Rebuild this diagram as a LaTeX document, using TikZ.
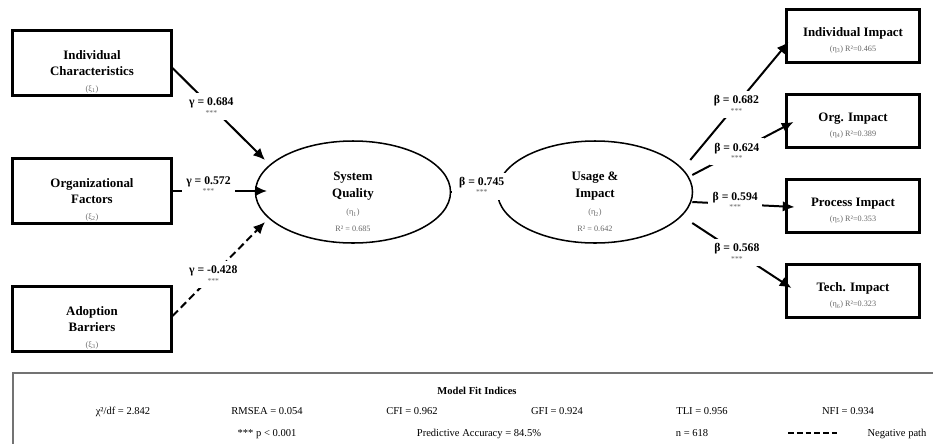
\documentclass[tikz,border=0pt]{standalone}
\usepackage{fontspec}
\setmainfont{Liberation Serif}
\usetikzlibrary{arrows.meta,calc,positioning,shapes.geometric}

\tikzset{
  exog/.style={draw, line width=1.8pt, minimum width=4.77cm, minimum height=1.95cm,
    align=center, font=\fontsize{11}{13.5}\selectfont\bfseries},
  endog/.style={draw, line width=1.8pt, minimum width=3.99cm, minimum height=1.59cm,
    align=center, font=\fontsize{11}{13.5}\selectfont\bfseries},
  latent/.style={draw, ellipse, line width=1.3pt, minimum width=5.85cm,
    minimum height=3.06cm, inner sep=0pt},
  lvname/.style={align=center, font=\fontsize{11}{14}\selectfont\bfseries},
  sublab/.style={inner sep=1pt, text=black!60, font=\fontsize{7}{8}\selectfont},
  coef/.style={fill=white, align=center, inner xsep=4pt, inner ysep=4pt,
    font=\fontsize{10}{10}\selectfont\bfseries},
  pathline/.style={line width=1.7pt, -{Latex[length=10pt,width=9pt]}},
  negpath/.style={pathline, dash pattern=on 6.5pt off 3.5pt},
  fitlab/.style={anchor=base, font=\fontsize{9}{11}\selectfont},
}
\newcommand{\sigstars}{\\[-2pt]{\fontsize{6.5}{6.5}\selectfont\mdseries\color{black!60}***}}
\newcommand{\subtxt}[1]{{\fontsize{7}{8}\selectfont\mdseries\color{black!60}#1}}

\begin{document}
\begin{tikzpicture}[x=0.03cm, y=-0.03cm]
			%%%%% START %%%%%
			\useasboundingbox (0,0) rectangle (933,443);
			
			% exogenous constructs
			\node[exog] (ic) at (92,63) {Individual\\Characteristics};
			\node[sublab, above=1.5pt of ic.south] (icxi) {(ξ\textsubscript{1})};
			\node[exog] (of) at (92,191) {Organizational\\Factors};
			\node[sublab, above=1.5pt of of.south] (ofxi) {(ξ\textsubscript{2})};
			\node[exog] (ab) at (92,319) {Adoption\\Barriers};
			\node[sublab, above=1.5pt of ab.south] (abxi) {(ξ\textsubscript{3})};
			
			% latent constructs
			\node[latent] (sq) at (353,192) {};
			\node[lvname] (sqname) at (353,186) {System\\Quality};
			\node[sublab] (sqeta) at (353,213) {(η\textsubscript{1})};
			\node[sublab] (sqr) at (353,229) {R² = 0.685};
			
			\node[latent] (ui) at (595,192) {};
			\node[lvname] (uiname) at (595,186) {Usage \&\\Impact};
			\node[sublab] (uieta) at (595,213) {(η\textsubscript{2})};
			\node[sublab] (uir) at (595,229) {R² = 0.642};
			
			% outcome constructs
			\node[endog] (ii) at (853,36) {\rule{0pt}{15pt}Individual Impact\\\subtxt{(η\textsubscript{3}) R²=0.465}};
			\node[endog] (oi) at (853,121) {\rule{0pt}{15pt}Org. Impact\\\subtxt{(η\textsubscript{4}) R²=0.389}};
			\node[endog] (pi) at (853,206) {\rule{0pt}{15pt}Process Impact\\\subtxt{(η\textsubscript{5}) R²=0.353}};
			\node[endog] (ti) at (853,291) {\rule{0pt}{15pt}Tech. Impact\\\subtxt{(η\textsubscript{6}) R²=0.323}};
			
			% structural paths
			\draw[pathline] ($(ic.east)+(0,5)$) -- node[coef, pos=0.42] (g1) {γ = 0.684\sigstars} ($(sq)+(-88,-32)$);
			\draw[pathline] (of.east) -- node[coef, pos=0.38, yshift=5pt] (g2) {γ = 0.572\sigstars} ($(sq)+(-86,-1)$);
			\draw[negpath] ($(ab.east)+(0,-3)$) -- node[coef, pos=0.44] (g3) {γ = -0.428\sigstars} ($(sq)+(-88,30)$);
			
			\draw[pathline] (sq.east) -- node[coef, inner xsep=6pt, pos=0.67, yshift=5pt] (b1) {β = 0.745\sigstars} (ui.west);
			
			\draw[pathline] ($(ui.east)+(-3,-32)$) -- node[coef, pos=0.47] (b2) {β = 0.682\sigstars} ($(ii.west)+(3,6)$);
			\draw[pathline] ($(ui.east)+(-1,-17)$) -- node[coef, pos=0.44] (b3) {β = 0.624\sigstars} ($(oi.west)+(8,1)$);
			\draw[pathline] ($(ui.east)+(-1,10)$) -- node[coef, pos=0.42, yshift=3pt] (b4) {β = 0.594\sigstars} ($(pi.west)+(9,1)$);
			\draw[pathline] ($(ui.east)+(-1,31)$) -- node[coef, pos=0.45] (b5) {β = 0.568\sigstars} ($(ti.west)+(6,-3)$);
			
			% fit indices panel
			\draw[line width=1.2pt, draw=black!55] (13,373) rectangle (960,470);
			\node[fitlab, font=\fontsize{9}{11}\selectfont\bfseries] (fittitle) at (477,394) {Model Fit Indices};
			\node[fitlab] (chi) at (123,414) {χ²/df = 2.842};
			\node[fitlab] (rmsea) at (267,414) {RMSEA = 0.054};
			\node[fitlab] (cfi) at (412,414) {CFI = 0.962};
			\node[fitlab] (gfi) at (557,414) {GFI = 0.924};
			\node[fitlab] (tli) at (702,414) {TLI = 0.956};
			\node[fitlab] (nfi) at (848,414) {NFI = 0.934};
			
			\node[fitlab] (pval) at (267,436) {*** p < 0.001};
			\node[fitlab] (pacc) at (479,436) {Predictive Accuracy = 84.5\%};
			\node[fitlab] (nobs) at (692,436) {n = 618};
			\coordinate (negA) at (788,433);
			\coordinate (negB) at (837,433);
			\draw[line width=1.5pt, dash pattern=on 5pt off 2.5pt] (negA) -- (negB);
			\node[fitlab] (neglab) at (897,436) {Negative path};
			
			%%%%% END %%%%%
\end{tikzpicture}
\end{document}
